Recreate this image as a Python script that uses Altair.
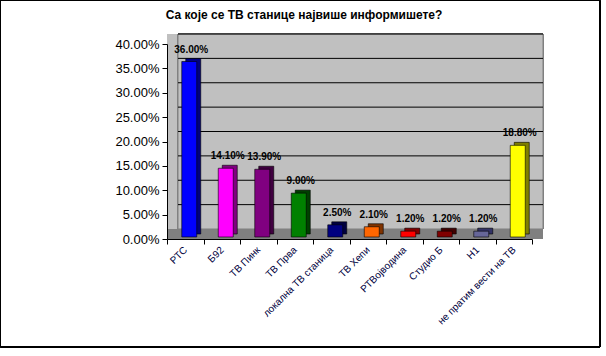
import altair as alt
import pandas as pd

stations = ["РТС", "Б92", "ТВ Пинк", "ТВ Прва", "локална ТВ станица", "ТВ Хепи",
            "РТВојводина", "Студио Б", "Н1", "не пратим вести на ТВ"]
values = [0.36, 0.141, 0.139, 0.09, 0.025, 0.021, 0.012, 0.012, 0.012, 0.188]
colors = ["#0000FF", "#FF00FF", "#800080", "#008000", "#000080", "#FF6600",
          "#FF0000", "#800000", "#666699", "#FFFF00"]
side_colors = ["#000080", "#800080", "#400040", "#004000", "#000040", "#803300",
               "#800000", "#400000", "#333366", "#808000"]
grid_values = [0.05, 0.10, 0.15, 0.20, 0.25, 0.30, 0.35, 0.40]
title_text = "Са које се ТВ станице највише информишете?"

df = pd.DataFrame({"station": stations, "value": values, "color": colors,
                   "side": side_colors,
                   "label": [f"{v*100:.2f}%" for v in values]})
grid_df = pd.DataFrame({"g": grid_values})

W, H = 365, 195
DX, DY = 11, -10   # depth offset of the back wall
FONT = "Liberation Sans"

x = alt.X("station:N", sort=stations, title=None,
          scale=alt.Scale(paddingInner=0.0, paddingOuter=0.0),
          axis=alt.Axis(labelAngle=-45, labelAlign="right", labelBaseline="middle",
                        labelFont=FONT, labelFontSize=10, labelColor="#000040",
                        tickBand="extent", domainColor="black", tickColor="black",
                        tickSize=5, labelPadding=4, grid=False, zindex=1,
                        labelOverlap=False))
yscale = alt.Scale(domain=[0, 0.4], nice=False)
yaxis = alt.Axis(format=".2%", values=[0.0] + grid_values, tickCount=9,
                 labelFont=FONT, labelFontSize=13, labelColor="black",
                 domainColor="black", tickColor="black", tickSize=5,
                 grid=False, labelPadding=3, zindex=1, labelOverlap=False)
y = alt.Y("value:Q", title=None, scale=yscale, axis=yaxis)

base = alt.Chart(df)

# side + back wall area
wall = base.mark_rect(color="#C0C0C0").encode(
    x=alt.value(0), x2=alt.value(W + DX), y=alt.value(DY), y2=alt.value(H))
back = base.mark_rect(fill="#C0C0C0", stroke="#808080", strokeWidth=1).encode(
    x=alt.value(DX), x2=alt.value(W + DX), y=alt.value(DY), y2=alt.value(H + DY))
floor = base.mark_rect(color="#808080").encode(
    x=alt.value(0), x2=alt.value(W + DX), y=alt.value(H + DY), y2=alt.value(H))

grid = alt.Chart(grid_df).mark_rule(color="black", yOffset=DY).encode(
    y=alt.Y("g:Q", title=None, scale=yscale, axis=yaxis),
    x=alt.value(DX), x2=alt.value(W + DX))

border = base.mark_rect(fill=None, stroke="black", strokeWidth=1).encode(
    x=alt.value(-166.5), x2=alt.value(600 - 167), y=alt.value(-43.5), y2=alt.value(347 - 44))

title = alt.Chart(pd.DataFrame({"t": [title_text]})).mark_text(
    font=FONT, fontSize=12, fontWeight="bold", color="black", align="center",
    baseline="middle").encode(x=alt.value(304 - 167), y=alt.value(15 - 44), text="t:N")

side = base.mark_bar(size=15, xOffset=8, yOffset=-5, stroke="black", strokeWidth=0.6).encode(
    x=x, y=y, color=alt.Color("side:N", scale=None))

front = base.mark_bar(size=15, xOffset=4, yOffset=-2, stroke="black", strokeWidth=0.6).encode(
    x=x, y=y, color=alt.Color("color:N", scale=None))

labels = base.mark_text(font=FONT, fontSize=10, fontWeight="bold", dy=-14, dx=6,
                        color="black").encode(x=x, y=y, text="label:N")

chart = alt.layer(wall, back, floor, grid, side, front, labels, border, title).properties(
    width=W, height=H,
    background="white",
    autosize=alt.AutoSizeParams(type="none"),
    padding={"left": 167, "top": 44, "right": 74, "bottom": 117},
).configure_view(stroke=None)

chart.save("out.html", embed_options={"renderer": "svg", "actions": False})
